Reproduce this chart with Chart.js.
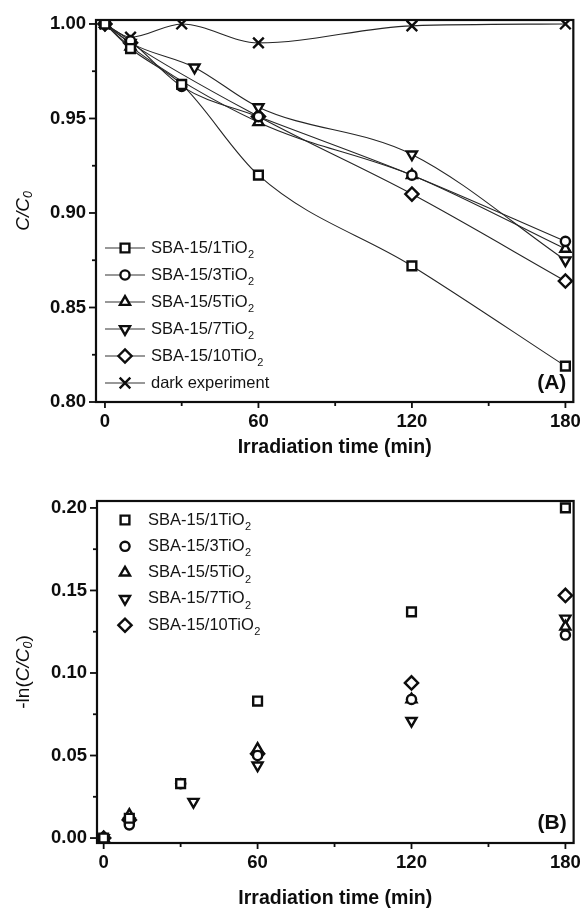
<!DOCTYPE html>
<html>
<head>
<meta charset="utf-8">
<script src="https://cdn.jsdelivr.net/npm/chart.js@4.4.1/dist/chart.umd.min.js"></script>
<style>
  html, body { margin: 0; padding: 0; background: #fff; }
  #wrap { position: relative; width: 584px; height: 909px; }
  canvas { position: absolute; left: 0; }
  #chartA { top: 0; }
  #chartB { top: 460px; }
</style>
</head>
<body>
<div id="wrap">
  <canvas id="chartA" width="584" height="460"></canvas>
  <canvas id="chartB" width="584" height="449"></canvas>
</div>
<script>
// ---- data ----
const sampleNames = ['SBA-15/1TiO', 'SBA-15/3TiO', 'SBA-15/5TiO', 'SBA-15/7TiO', 'SBA-15/10TiO'];
const darkName = 'dark experiment';

// panel A: C/C0 vs irradiation time
const timeA1 = [0, 10, 30, 60, 120, 180];
const ratioA1 = [1.000, 0.987, 0.968, 0.920, 0.872, 0.819];
const timeA3 = [0, 10, 30, 60, 120, 180];
const ratioA3 = [1.000, 0.991, 0.967, 0.951, 0.920, 0.885];
const timeA5 = [0, 10, 60, 120, 180];
const ratioA5 = [1.000, 0.988, 0.948, 0.920, 0.881];
const timeA7 = [0, 10, 35, 60, 120, 180];
const ratioA7 = [1.000, 0.990, 0.977, 0.956, 0.931, 0.875];
const timeA10 = [0, 10, 60, 120, 180];
const ratioA10 = [1.000, 0.990, 0.951, 0.910, 0.864];
const timeDark = [0, 10, 30, 60, 120, 180];
const ratioDark = [1.000, 0.993, 1.000, 0.990, 0.999, 1.000];

// panel B: -ln(C/C0) vs irradiation time
const timeB1 = [0, 10, 30, 60, 120, 180];
const lnB1 = [0, 0.012, 0.033, 0.083, 0.137, 0.200];
const timeB3 = [0, 10, 30, 60, 120, 180];
const lnB3 = [0, 0.008, 0.033, 0.050, 0.084, 0.123];
const timeB5 = [0, 10, 60, 120, 180];
const lnB5 = [0, 0.014, 0.054, 0.084, 0.128];
const timeB7 = [0, 10, 35, 60, 120, 180];
const lnB7 = [0, 0.010, 0.022, 0.044, 0.071, 0.133];
const timeB10 = [0, 10, 60, 120, 180];
const lnB10 = [0, 0.011, 0.051, 0.094, 0.147];

// ticks
const xTicks = [0, 30, 60, 90, 120, 150, 180];
const xLabels = ['0', '', '60', '', '120', '', '180'];
const yTicksA = [0.80, 0.825, 0.85, 0.875, 0.90, 0.925, 0.95, 0.975, 1.00];
const yLabelsA = ['0.80', '', '0.85', '', '0.90', '', '0.95', '', '1.00'];
const yTicksB = [0, 0.025, 0.05, 0.075, 0.10, 0.125, 0.15, 0.175, 0.20];
const yLabelsB = ['0.00', '', '0.05', '', '0.10', '', '0.15', '', '0.20'];

// ---- styles ----
const INK = '#0d0d0d';
const markers = [
  { pointStyle: 'rect', radius: 6.2, rotation: 0 },
  { pointStyle: 'circle', radius: 4.6, rotation: 0 },
  { pointStyle: 'triangle', radius: 5.8, rotation: 0 },
  { pointStyle: 'triangle', radius: 5.8, rotation: 180 },
  { pointStyle: 'rectRot', radius: 6.6, rotation: 0 },
];
const darkMarker = { pointStyle: 'crossRot', radius: 7.5, rotation: 0 };

function pts(xs, ys) {
  return xs.map((x, i) => ({ x, y: ys[i] }));
}

function makeDataset(points, m, withLine) {
  return {
    data: points,
    showLine: withLine,
    borderColor: '#262626',
    borderWidth: 1.1,
    cubicInterpolationMode: 'monotone',
    pointStyle: m.pointStyle,
    pointRadius: m.radius,
    pointRotation: m.rotation,
    pointBorderColor: INK,
    pointBackgroundColor: '#fff',
    pointBorderWidth: m.pointStyle === 'crossRot' ? 2.4 : 2.4,
  };
}

// draws box, ticks, titles, legend with subscripts
function decorPlugin(cfg) {
  return {
    id: 'decor',
    afterDraw(chart) {
      const ctx = chart.ctx;
      const a = chart.chartArea;
      const xs = chart.scales.x;
      const ys = chart.scales.y;
      ctx.save();
      ctx.strokeStyle = INK;
      ctx.fillStyle = INK;

      // ticks
      ctx.lineWidth = 1.8;
      xTicks.forEach((v, i) => {
        const px = xs.getPixelForValue(v);
        const len = xLabels[i] ? 6 : 4;
        ctx.beginPath();
        ctx.moveTo(px, a.bottom);
        ctx.lineTo(px, a.bottom + len);
        ctx.stroke();
      });
      cfg.yTicks.forEach((v, i) => {
        const py = ys.getPixelForValue(v);
        const len = cfg.yLabels[i] ? 7 : 4;
        ctx.beginPath();
        ctx.moveTo(a.left, py);
        ctx.lineTo(a.left - len, py);
        ctx.stroke();
      });

      // frame
      ctx.lineWidth = 2.2;
      ctx.strokeRect(a.left, a.top, a.right - a.left, a.bottom - a.top);

      // x title
      ctx.font = 'bold 19.5px "Liberation Sans", Arial, sans-serif';
      ctx.textAlign = 'center';
      ctx.textBaseline = 'middle';
      ctx.fillText('Irradiation time (min)', (a.left + a.right) / 2, a.bottom + cfg.xTitleGap);

      // y title with subscript, rotated
      ctx.save();
      ctx.translate(24, (a.top + a.bottom) / 2);
      ctx.rotate(-Math.PI / 2);
      ctx.textAlign = 'left';
      let total = 0;
      cfg.yTitle.forEach((p) => { ctx.font = p.font; total += ctx.measureText(p.t).width; });
      let cx = -total / 2;
      cfg.yTitle.forEach((p) => {
        ctx.font = p.font;
        ctx.fillText(p.t, cx, p.dy || 0);
        cx += ctx.measureText(p.t).width;
      });
      ctx.restore();

      // panel label
      ctx.font = 'bold 21px "Liberation Sans", Arial, sans-serif';
      ctx.textAlign = 'right';
      ctx.fillText(cfg.panel, a.right - 7, a.bottom - cfg.panelGap);

      // legend
      const L = cfg.legend;
      L.entries.forEach((e, i) => {
        const y = a.top + L.top + i * L.step;
        if (L.lines) {
          ctx.lineWidth = 1.1;
          ctx.strokeStyle = '#333';
          ctx.beginPath();
          ctx.moveTo(L.lineStart, y);
          ctx.lineTo(L.lineEnd, y);
          ctx.stroke();
        }
        ctx.strokeStyle = INK;
        ctx.fillStyle = '#fff';
        ctx.lineWidth = 2.4;
        Chart.helpers.drawPoint(ctx, {
          pointStyle: e.m.pointStyle,
          radius: e.m.radius,
          rotation: e.m.rotation,
          borderWidth: ctx.lineWidth,
        }, L.markerX, y);
        ctx.fillStyle = '#141414';
        ctx.textAlign = 'left';
        ctx.textBaseline = 'middle';
        ctx.font = '16.5px "Liberation Sans", Arial, sans-serif';
        ctx.fillText(e.name, L.textX, y);
        if (e.sub) {
          const w = ctx.measureText(e.name).width;
          ctx.font = '11px "Liberation Sans", Arial, sans-serif';
          ctx.fillText(e.sub, L.textX + w + 0.5, y + 7);
        }
      });
      ctx.restore();
    },
  };
}

function baseOptions(xmin, xmax, ymin, ymax, yTicks, yLabels, yWidth, xHeight, padTop) {
  const tickFont = { family: '"Liberation Sans", Arial, sans-serif', size: 18.5, weight: 'bold' };
  return {
    responsive: false,
    animation: false,
    devicePixelRatio: 1,
    layout: { padding: { left: 0, right: 9, top: padTop, bottom: 0 } },
    plugins: { legend: { display: false }, tooltip: { enabled: false } },
    scales: {
      x: {
        type: 'linear',
        min: xmin,
        max: xmax,
        afterBuildTicks: (s) => { s.ticks = xTicks.map((v) => ({ value: v })); },
        afterFit: (s) => { s.height = xHeight; },
        ticks: {
          autoSkip: false,
          maxRotation: 0,
          color: INK,
          font: tickFont,
          padding: 3,
          callback: (v, i) => xLabels[i],
        },
        grid: { drawOnChartArea: false, tickLength: 6, color: 'rgba(0,0,0,0)' },
        border: { display: false },
      },
      y: {
        type: 'linear',
        min: ymin,
        max: ymax,
        afterBuildTicks: (s) => { s.ticks = yTicks.map((v) => ({ value: v })); },
        afterFit: (s) => { s.width = yWidth; },
        ticks: {
          autoSkip: false,
          color: INK,
          font: tickFont,
          padding: 3,
          callback: (v, i) => yLabels[i],
        },
        grid: { drawOnChartArea: false, tickLength: 7, color: 'rgba(0,0,0,0)' },
        border: { display: false },
      },
    },
  };
}

// ---- panel A ----
const dataA = [
  pts(timeA1, ratioA1), pts(timeA3, ratioA3), pts(timeA5, ratioA5),
  pts(timeA7, ratioA7), pts(timeA10, ratioA10),
];
const dsA = dataA.map((d, i) => makeDataset(d, markers[i], true));
dsA.push(makeDataset(pts(timeDark, ratioDark), darkMarker, true));

new Chart(document.getElementById('chartA'), {
  type: 'scatter',
  data: { datasets: dsA },
  options: baseOptions(-3.5, 183.1, 0.80, 1.0021, yTicksA, yLabelsA, 96, 58, 20),
  plugins: [decorPlugin({
    yTicks: yTicksA,
    yLabels: yLabelsA,
    xTitleGap: 46,
    panel: '(A)',
    panelGap: 19,
    yTitle: [
      { t: 'C/C', font: 'italic 19px "Liberation Sans", Arial, sans-serif' },
      { t: '0', font: 'italic 12.5px "Liberation Sans", Arial, sans-serif', dy: 5 },
    ],
    legend: {
      top: 228, step: 27, lines: true, lineStart: 105, lineEnd: 145, markerX: 125, textX: 151,
      entries: sampleNames.map((n, i) => ({ name: n, sub: '2', m: markers[i] }))
        .concat([{ name: darkName, sub: '', m: darkMarker }]),
    },
  })],
});

// ---- panel B ----
const dataB = [
  pts(timeB1, lnB1), pts(timeB3, lnB3), pts(timeB5, lnB5),
  pts(timeB7, lnB7), pts(timeB10, lnB10),
];
const dsB = dataB.map((d, i) => makeDataset(d, markers[i], false));

new Chart(document.getElementById('chartB'), {
  type: 'scatter',
  data: { datasets: dsB },
  options: baseOptions(-2.6, 183.2, -0.003, 0.2042, yTicksB, yLabelsB, 97, 66, 41),
  plugins: [decorPlugin({
    yTicks: yTicksB,
    yLabels: yLabelsB,
    xTitleGap: 56,
    panel: '(B)',
    panelGap: 20,
    yTitle: [
      { t: '-ln(', font: '19px "Liberation Sans", Arial, sans-serif' },
      { t: 'C/C', font: 'italic 19px "Liberation Sans", Arial, sans-serif' },
      { t: '0', font: 'italic 12.5px "Liberation Sans", Arial, sans-serif', dy: 5 },
      { t: ')', font: '19px "Liberation Sans", Arial, sans-serif' },
    ],
    legend: {
      top: 19, step: 26.3, lines: false, markerX: 125, textX: 148,
      entries: sampleNames.map((n, i) => ({ name: n, sub: '2', m: markers[i] })),
    },
  })],
});
</script>
</body>
</html>
